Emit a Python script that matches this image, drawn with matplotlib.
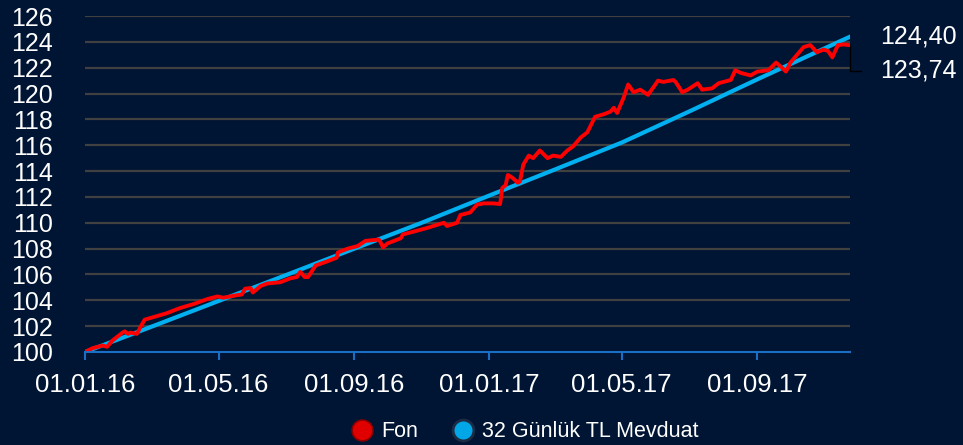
import pandas as pd
import matplotlib.pyplot as plt
from matplotlib.lines import Line2D

# veriler
start = pd.Timestamp('2016-01-01')
end = pd.Timestamp('2017-11-24')

fon_day = [0, 7, 16, 20, 25, 34, 36, 39, 41, 47, 50, 54, 62, 74, 86, 98, 111, 120, 125, 138,
           142, 145, 150, 152, 159, 165, 177, 186, 192, 195, 199, 202, 209, 219, 228, 229, 238,
           247, 254, 266, 267, 270, 274, 286, 288, 297, 310, 325, 328, 337, 340, 349, 355, 361,
           370, 376, 378, 381, 383, 387, 392, 394, 397, 402, 406, 412, 419, 424, 431, 437, 442,
           449, 455, 462, 470, 476, 479, 482, 488, 492, 497, 503, 510, 515, 519, 524, 533, 535,
           541, 546, 555, 559, 568, 574, 585, 589, 594, 603, 609, 619, 626, 630, 635, 639, 646,
           651, 657, 663, 669, 673, 677, 682, 687, 693]
fon_val = [100.0, 100.3, 100.5, 100.4, 100.9, 101.5, 101.6, 101.4, 101.5, 101.4, 101.9, 102.5,
           102.7, 103.0, 103.4, 103.7, 104.1, 104.3, 104.2, 104.4, 104.45, 104.9, 104.95, 104.6,
           105.1, 105.3, 105.4, 105.7, 105.8, 106.2, 105.8, 105.8, 106.7, 107.0, 107.3, 107.7,
           108.0, 108.2, 108.6, 108.7, 108.6, 108.1, 108.4, 108.8, 109.1, 109.3, 109.6, 110.0,
           109.75, 110.0, 110.6, 110.8, 111.4, 111.5, 111.5, 111.45, 112.7, 112.9, 113.7, 113.5,
           113.1, 113.2, 114.5, 115.2, 115.0, 115.6, 115.0, 115.2, 115.1, 115.6, 115.9, 116.6,
           117.0, 118.2, 118.4, 118.6, 118.9, 118.5, 119.7, 120.7, 120.1, 120.3, 119.9, 120.5,
           121.0, 120.9, 121.05, 120.9, 120.1, 120.3, 120.8, 120.3, 120.4, 120.8, 121.05, 121.8,
           121.6, 121.4, 121.7, 121.8, 122.4, 122.1, 121.7, 122.4, 123.1, 123.6, 123.75, 123.2,
           123.4, 123.3, 122.8, 123.75, 123.8, 123.74]

mevduat_tarih = ['2016-01-01', '2016-03-01', '2016-05-01', '2016-07-01', '2016-09-01',
                 '2016-11-01', '2017-01-01', '2017-03-01', '2017-05-01', '2017-07-01',
                 '2017-09-01', '2017-11-01', '2017-11-24']
mevduat_val = [100.0, 101.95, 103.95, 105.95, 108.0, 110.0, 112.1, 114.1, 116.2, 118.6,
               121.1, 123.5, 124.4]

tick_tarih = ['2016-01-01', '2016-05-01', '2016-09-01', '2017-01-01', '2017-05-01', '2017-09-01']
y_ticks = list(range(100, 127, 2))

fon_x = [start + pd.Timedelta(days=d) for d in fon_day]
mev_x = pd.to_datetime(mevduat_tarih)

bg = '#001433'
plt.rcParams['font.family'] = ['Liberation Sans', 'DejaVu Sans']

fig = plt.figure(figsize=(9.63, 4.45), dpi=100, facecolor=bg)
ax = fig.add_axes([0.0883, 0.209, 0.7944, 0.755])
ax.set_facecolor(bg)

ax.plot(mev_x, mevduat_val, color='#00b0f0', lw=3.0, zorder=3)
ax.plot(fon_x, fon_val, color='#ff0000', lw=2.8, zorder=4)

ax.set_xlim(start, end)
ax.set_ylim(100, 126)
ax.set_yticks(y_ticks)
ax.set_yticklabels([str(v) for v in y_ticks])
ax.set_xticks(pd.to_datetime(tick_tarih))
ax.set_xticklabels(pd.to_datetime(tick_tarih).strftime('%d.%m.%y'))

for v in y_ticks[1:]:
    ax.axhline(v, color='#404040', lw=1.6, zorder=1)

for s in ['top', 'right', 'left']:
    ax.spines[s].set_visible(False)
ax.spines['bottom'].set_color('#1a6fc4')
ax.spines['bottom'].set_linewidth(1.5)
ax.spines['bottom'].set_zorder(5)
ax.tick_params(axis='y', length=0, pad=23, labelcolor='white', labelsize=18)
ax.tick_params(axis='x', length=6, width=1.5, color='#1a6fc4', pad=9,
               labelcolor='white', labelsize=18.5)

# son degerler
ax.annotate(f'{mevduat_val[-1]:.2f}'.replace('.', ','), xy=(mev_x[-1], mevduat_val[-1]),
            xytext=(22, 0), textcoords='offset points', va='center', ha='left',
            color='white', fontsize=18, annotation_clip=False)
ax.annotate(f'{fon_val[-1]:.2f}'.replace('.', ','), xy=(fon_x[-1], fon_val[-1]),
            xytext=(22, -18.5), textcoords='offset points', va='center', ha='left',
            color='white', fontsize=18, annotation_clip=False,
            arrowprops=dict(arrowstyle='-', color='black', lw=1, shrinkA=12, shrinkB=0,
                            relpos=(0, 0.5),
                            connectionstyle='angle,angleA=0,angleB=90,rad=0'))

handles = [
    Line2D([], [], ls='none', marker='o', markersize=15, markerfacecolor='#e00000',
           markeredgecolor='#8a0000', markeredgewidth=1.2),
    Line2D([], [], ls='none', marker='o', markersize=15, markerfacecolor='#00a6e6',
           markeredgecolor='#1c2c44', markeredgewidth=2),
]
leg = fig.legend(handles, ['Fon', '32 Günlük TL Mevduat'], loc='center', ncol=2,
                 bbox_to_anchor=(0.545, 0.03), frameon=False, fontsize=15.5,
                 handletextpad=0.4, columnspacing=1.6, handlelength=1.0)
for t in leg.get_texts():
    t.set_color('white')

plt.savefig('out.png', dpi=100, facecolor=bg)
plt.close()
